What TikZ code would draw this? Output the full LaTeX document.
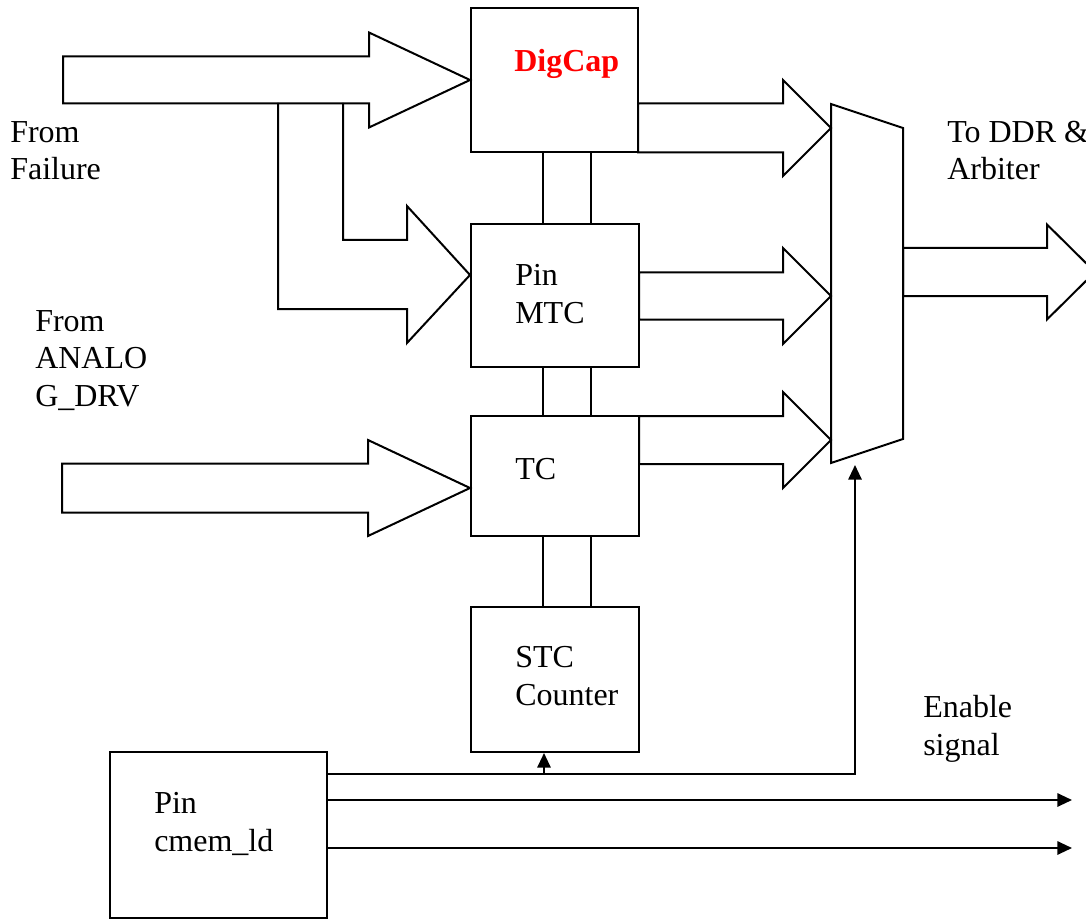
\documentclass[tikz,border=0pt]{standalone}
\usepackage{fontspec}
\setmainfont{Liberation Serif}
\usetikzlibrary{arrows.meta,calc}

\tikzset{
  wire/.style={line width=1.5pt, line join=miter},
  box/.style={draw, line width=1.5pt, inner sep=0pt, minimum width=#1},
  % labels are placed by the baseline of their last line
  lbl/.style={anchor=base west, inner sep=0pt, align=left,
              font=\fontsize{24}{28}\selectfont},
  sig/.style={line width=1.5pt, -{Triangle[length=11pt,width=10pt]}},
  % hollow block arrow, drawn from its tip: shaft length / head length / shaft half-width / head half-width
  pics/barrow/.style args={#1/#2/#3/#4}{code={
    \draw[wire] (0,0) -- (-#2,-#4) -- (-#2,-#3) -- (-#2-#1,-#3)
      -- (-#2-#1,#3) -- (-#2,#3) -- (-#2,#4) -- cycle;
  }}
}

\begin{document}
\begin{tikzpicture}[x=0.75pt, y=-0.75pt]
\useasboundingbox (0,0) rectangle (1086,920);

% ---- blocks ----
\node[box=125.25pt, minimum height=108pt]    (dig)  at (554.5,80)  {};
\node[box=126pt,    minimum height=107.25pt] (pmtc) at (555,295.5) {};
\node[box=126pt,    minimum height=90pt]     (tc)   at (555,476)   {};
\node[box=126pt,    minimum height=108.75pt] (stc)  at (555,679.5) {};
\node[box=162.75pt, minimum height=124.5pt]  (cmem) at (218.5,835) {};

% ---- multiplexer ----
\coordinate (mux-nw) at (831,104);
\coordinate (mux-ne) at (903,128);
\coordinate (mux-se) at (903,439);
\coordinate (mux-sw) at (831,463);
\draw[wire] (mux-nw) -- (mux-ne) -- (mux-se) -- (mux-sw) -- cycle;
\coordinate (mux-in1) at (831,128);
\coordinate (mux-in2) at (831,296);
\coordinate (mux-in3) at (831,440);
\coordinate (mux-en)  at (855,465);

% ---- links between the stacked blocks ----
\foreach \xx in {543,591} {
  \draw[wire] (dig.south -| \xx,0)  -- (pmtc.north -| \xx,0);
  \draw[wire] (pmtc.south -| \xx,0) -- (tc.north -| \xx,0);
  \draw[wire] (tc.south -| \xx,0)   -- (stc.north -| \xx,0);
}

% ---- input buses ----
\pic at (dig.west) {barrow=306/101/23.5/47.5};
\coordinate (pm-in) at (pmtc.west |- 0,275);
\draw[wire] (278,103) |- (407,309) -- (407,343) -- (pm-in)
  -- (407,206) -- (407,240) -| (343,103);
\coordinate (tc-in) at (tc.west |- 0,488);
\pic at (tc-in) {barrow=306/102/24.5/48};

% ---- buses into the multiplexer ----
\pic at (mux-in1) {barrow=145/48/24.5/48};
\pic at (mux-in2) {barrow=144/48/23.5/48};
\pic at (mux-in3) {barrow=144/48/24/48};

% ---- output bus ----
\coordinate (out-tip) at (1095,272);
\pic at (out-tip) {barrow=144/48/24/47.5};

% ---- enable and control signals ----
\coordinate (en-split) at (544,774);
\draw[line width=1.5pt] (cmem.east |- en-split) -- (en-split);
\draw[sig] (en-split) -| (mux-en);
\draw[sig] (en-split) -- (stc.south -| en-split);
\coordinate (sig1-end) at (1072,800);
\coordinate (sig2-end) at (1072,848);
\draw[sig] (cmem.east |- sig1-end) -- (sig1-end);
\draw[sig] (cmem.east |- sig2-end) -- (sig2-end);

% ---- labels ----
\node[lbl] (t-fail)   at (10,179.5)  {From\\Failure};
\node[lbl] (t-analog) at (35,406)    {From\\ANALO\\G\_DRV};
\node[lbl, text=red, font=\fontsize{24}{28}\selectfont\bfseries] (t-dig) at (514,72) {DigCap};
\node[lbl] (t-pmtc)   at (515,323)   {Pin\\MTC};
\node[lbl] (t-tc)     at (515,479)   {TC};
\node[lbl] (t-stc)    at (515,705)   {STC\\Counter};
\node[lbl] (t-ddr)    at (947,180)   {To DDR \&\\Arbiter};
\node[lbl] (t-en)     at (923,755)   {Enable\\signal};
\node[lbl] (t-cmem)   at (154,851)   {Pin\\cmem\_ld};
\end{tikzpicture}
\end{document}
